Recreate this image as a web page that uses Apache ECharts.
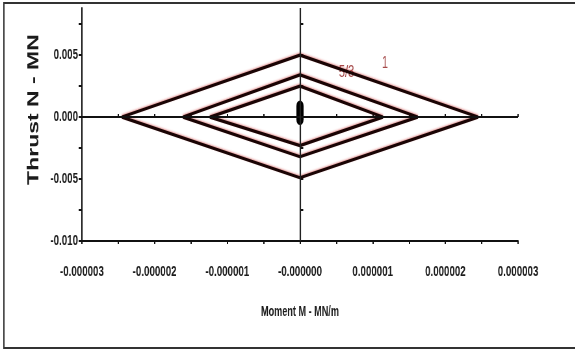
<!DOCTYPE html>
<html>
<head>
<meta charset="utf-8">
<script src="https://cdn.jsdelivr.net/npm/echarts@6/dist/echarts.min.js"></script>
<style>
  html, body { margin: 0; padding: 0; background: #fff; overflow: hidden; width: 575px; height: 352px; }
  /* the chart is laid out wide and squeezed horizontally to get the narrow lettering */
  #chart { width: 885px; height: 352px; transform: scaleX(0.65); transform-origin: 0 0; }
</style>
</head>
<body>
<div id="chart"></div>
<script>
// Moment axis (MN/m)
const xMin = -3e-6;
const xMax = 3e-6;
const xTickValues = [-3e-6, -2.5e-6, -2e-6, -1.5e-6, -1e-6, -0.5e-6, 0, 0.5e-6, 1e-6, 1.5e-6, 2e-6, 2.5e-6, 3e-6];
const xLabelValues = [-3e-6, -2e-6, -1e-6, 0, 1e-6, 2e-6, 3e-6];
const xLabelText = ['-0.000003', '-0.000002', '-0.000001', '-0.000000', '0.000001', '0.000002', '0.000003'];

// Thrust axis (MN)
const yMin = -0.01;
const yMax = 0.0088;
const yTickValues = [-0.01, -0.0075, -0.005, -0.0025, 0, 0.0025, 0.005, 0.0075];
const yLabelValues = [-0.01, -0.005, 0, 0.005];
const yLabelText = ['-0.010', '-0.005', '0.000', '0.005'];

// interaction loops [moment, thrust]
const loop1 = [[-2.45e-6, 0], [0, 0.0050], [2.45e-6, 0], [0, -0.0049], [-2.45e-6, 0]];
const loop3 = [[-1.61e-6, 0], [0, 0.0034], [1.62e-6, 0], [0, -0.0032], [-1.61e-6, 0]];
const loop5 = [[-1.24e-6, 0], [0, 0.0025], [1.14e-6, 0], [0, -0.0023], [-1.24e-6, 0]];
const centreTrace = [[0, 0.0009], [0, -0.0002]];

// curve tags
const tagNames = ['5/3', '1'];
const tagPositions = [[0.64e-6, 0.0036], [1.17e-6, 0.0043]];

function pick(values, texts, v) {
  const i = values.findIndex(u => Math.abs(u - v) < Math.abs(values[1] - values[0]) * 1e-3);
  return i < 0 ? '' : texts[i];
}

const labelFont = { fontFamily: 'Liberation Sans, Arial, sans-serif', fontWeight: 'bold', color: '#1b1b1b' };
const loopStyle = {
  color: '#1a0404', width: 3.2,
  shadowColor: 'rgba(200,30,30,0.45)', shadowBlur: 2, shadowOffsetY: -1
};

const chart = echarts.init(document.getElementById('chart'), null, { renderer: 'canvas' });
chart.setOption({
  animation: false,
  backgroundColor: '#fff',
  graphic: [{
    type: 'rect', shape: { x: 6, y: 3, width: 900, height: 345 },
    style: { fill: 'none', stroke: '#333', lineWidth: 2 }, silent: true
  }],
  grid: { left: 126, right: 88, top: 8, bottom: 111 },
  xAxis: [{
    type: 'value', min: xMin, max: xMax,
    name: 'Moment M - MN/m', nameLocation: 'middle', nameGap: 64,
    nameTextStyle: Object.assign({ fontSize: 14 }, labelFont),
    axisLine: { show: true, onZero: false, lineStyle: { color: '#111', width: 2 } },
    axisTick: { show: true, customValues: xTickValues, length: 3, lineStyle: { color: '#111', width: 2 } },
    axisLabel: {
      customValues: xLabelValues, margin: 23, fontSize: 15,
      fontFamily: labelFont.fontFamily, fontWeight: 'bold', color: '#1b1b1b',
      formatter: v => pick(xLabelValues, xLabelText, v)
    },
    splitLine: { show: false }
  }, {
    type: 'value', min: xMin, max: xMax, position: 'bottom',
    axisLine: { show: false },
    axisTick: { show: true, inside: true, customValues: xTickValues, length: 3, lineStyle: { color: '#111', width: 2 } },
    axisLabel: { show: false }, splitLine: { show: false }
  }],
  yAxis: [{
    type: 'value', min: yMin, max: yMax,
    name: 'Thrust N - MN', nameLocation: 'middle', nameGap: 62,
    nameTextStyle: Object.assign({ fontSize: 23, padding: [0, 0, 0, 30] }, labelFont),
    axisLine: { show: true, onZero: false, lineStyle: { color: '#111', width: 2 } },
    axisTick: { show: true, customValues: yTickValues, length: 5, lineStyle: { color: '#111', width: 2 } },
    axisLabel: {
      customValues: yLabelValues, margin: 6, fontSize: 15,
      fontFamily: labelFont.fontFamily, fontWeight: 'bold', color: '#1b1b1b',
      formatter: v => pick(yLabelValues, yLabelText, v)
    },
    splitLine: { show: false }
  }, {
    type: 'value', min: yMin, max: yMax, position: 'left',
    axisLine: { show: false },
    axisTick: { show: true, inside: true, customValues: yTickValues, length: 5, lineStyle: { color: '#111', width: 2 } },
    axisLabel: { show: false }, splitLine: { show: false }
  }],
  series: [
    {
      name: 'axes', type: 'line', data: [], silent: true,
      markLine: {
        silent: true, symbol: 'none', label: { show: false },
        data: [
          { yAxis: 0, lineStyle: { color: '#111', width: 2, type: 'solid' } },
          { xAxis: 0, lineStyle: { color: '#222', width: 2.2, type: 'solid' } }
        ]
      }
    },
    { name: '1', type: 'line', data: loop1, symbol: 'none', lineStyle: loopStyle },
    { name: '3', type: 'line', data: loop3, symbol: 'none', lineStyle: loopStyle },
    { name: '5', type: 'line', data: loop5, symbol: 'none', lineStyle: loopStyle },
    {
      name: 'centre', type: 'line', data: centreTrace, symbol: 'none',
      lineStyle: { color: '#000', width: 11, cap: 'round' }
    },
    {
      name: 'tags', type: 'scatter', symbolSize: 0, silent: true,
      data: tagNames.map((n, i) => ({ name: n, value: tagPositions[i] })),
      label: {
        show: true, position: 'inside', formatter: '{b}',
        fontSize: 17, fontFamily: 'Liberation Sans, Arial, sans-serif', color: '#8e1c1c'
      }
    }
  ]
});
</script>
</body>
</html>
